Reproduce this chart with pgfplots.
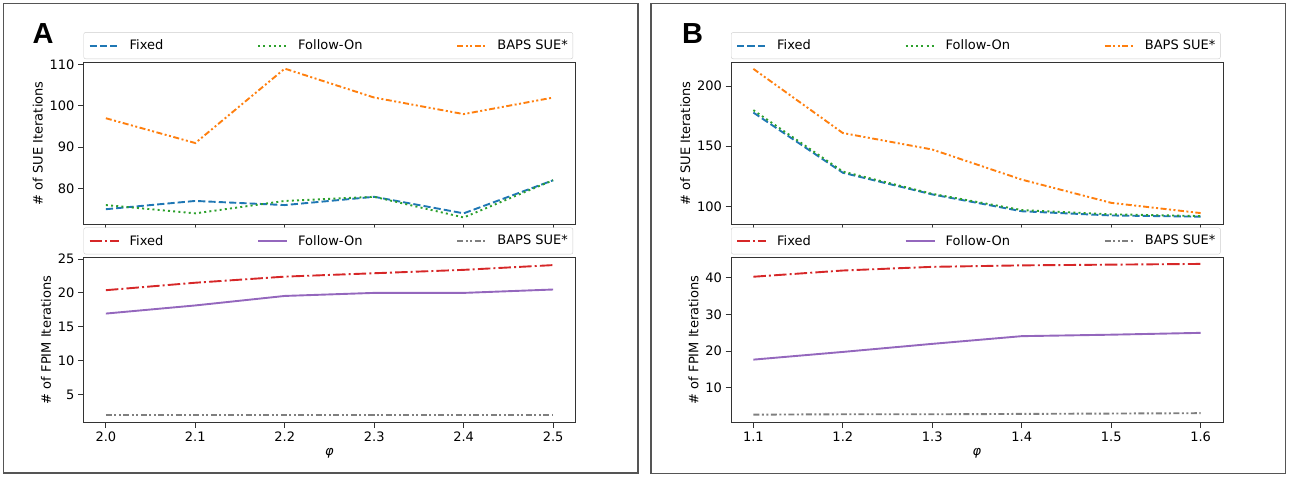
\documentclass[border=0pt]{standalone}
\usepackage{fontspec}
\setmainfont{DejaVu Sans}
\newfontfamily\panelfont{Liberation Sans}
\usepackage{pgfplots}
\pgfplotsset{compat=1.18}
\definecolor{tblue}{HTML}{1F77B4}
\definecolor{tgreen}{HTML}{2CA02C}
\definecolor{torange}{HTML}{FF7F0E}
\definecolor{tred}{HTML}{D62728}
\definecolor{tpurple}{HTML}{9467BD}
\definecolor{tgray}{HTML}{7F7F7F}
\definecolor{spine}{HTML}{333333}
\definecolor{frame}{HTML}{555555}

\pgfplotsset{
  mpl/.style={
    scale only axis, width=492pt,
    axis line style={spine, line width=1pt},
    tick style={spine, line width=1pt},
    major tick length=5.5pt,
    tick align=outside,
    tick pos=left,
    font=\fontsize{13}{15.6}\selectfont,
    tick label style={font=\fontsize{13}{15.6}\selectfont},
    /pgf/number format/assume math mode=true,
    label style={font=\fontsize{13}{15.6}\selectfont},
    xtick=data,
    xticklabel style={/pgf/number format/.cd, fixed, fixed zerofill, precision=1},
    yticklabel style={/pgf/number format/.cd, fixed, precision=0},
    legend columns=3,
    legend cell align=left,
    legend style={at={(0,1)}, anchor=south west, yshift=3pt, draw=black!20,
      rounded corners=2pt, fill=white, inner xsep=5pt, inner ysep=7.5pt,
      nodes={inner sep=0pt},
      font=\fontsize{13}{15.6}\selectfont,
      /tikz/every odd column/.style={column sep=10pt},
      /tikz/every even column/.style={column sep=94pt}},
    legend image code/.code={\draw[##1] (0pt,0pt) -- (29pt,0pt);},
  },
  dashedS/.style={line width=1.9pt, dash pattern=on 7.2pt off 3.1pt},
  dottedS/.style={line width=1.9pt, dash pattern=on 2pt off 3.2pt},
  dashdotS/.style={line width=1.9pt, dash pattern=on 12.5pt off 3.1pt on 2pt off 3.1pt},
  dashdotdotS/.style={line width=1.9pt, dash pattern=on 6pt off 2.5pt on 2pt off 2.5pt on 2pt off 2.5pt},
  solidS/.style={line width=1.9pt, solid},
}

\begin{document}
\begin{tikzpicture}
\useasboundingbox (0pt,0pt) rectangle (1292pt,-477pt);
\draw[frame, line width=1.8pt] (3.5pt,-3.5pt) rectangle (638pt,-473pt);
\draw[frame, line width=1.8pt] (651pt,-3.5pt) rectangle (1285.5pt,-473.5pt);
\node[anchor=base, inner sep=0pt] at (43pt,-43pt) {\panelfont\bfseries\fontsize{29}{30}\selectfont A};
\node[anchor=base, inner sep=0pt] at (692.5pt,-43pt) {\panelfont\bfseries\fontsize{29}{30}\selectfont B};

% ---------- Panel A top ----------
\begin{axis}[mpl, at={(83.5pt,-62pt)}, anchor=north west, height=162.5pt,
  xmin=1.975, xmax=2.525, ymin=71.3, ymax=110.6,
  ytick={80,90,100,110}, xticklabels={},
  ylabel={\# of SUE Iterations}]
\addplot[tblue, dashedS] coordinates {(2.0,75) (2.1,77) (2.2,76) (2.3,78) (2.4,74) (2.5,82)};
\addlegendentry{Fixed}
\addplot[tgreen, dottedS] coordinates {(2.0,76) (2.1,74) (2.2,77) (2.3,78) (2.4,73) (2.5,82)};
\addlegendentry{Follow-On}
\addplot[torange, dashdotdotS] coordinates {(2.0,97) (2.1,91) (2.2,109) (2.3,102) (2.4,98) (2.5,102)};
\addlegendentry{BAPS SUE*}
\end{axis}

% ---------- Panel A bottom ----------
\begin{axis}[mpl, at={(83.5pt,-257.3pt)}, anchor=north west, height=165.4pt,
  xmin=1.975, xmax=2.525, ymin=0.85, ymax=25.25,
  ytick={5,10,15,20,25},
  ylabel={\# of FPIM Iterations}, xlabel={\textit{φ}}]
\addplot[tred, dashdotS] coordinates {(2.0,20.4) (2.1,21.5) (2.2,22.4) (2.3,22.9) (2.4,23.4) (2.5,24.1)};
\addlegendentry{Fixed}
\addplot[tpurple, solidS] coordinates {(2.0,16.95) (2.1,18.15) (2.2,19.55) (2.3,20.0) (2.4,20.0) (2.5,20.5)};
\addlegendentry{Follow-On}
\addplot[tgray, dashdotdotS] coordinates {(2.0,2.0) (2.1,2.0) (2.2,2.0) (2.3,2.0) (2.4,2.0) (2.5,2.0)};
\addlegendentry{BAPS SUE*}
\end{axis}

% ---------- Panel B top ----------
\begin{axis}[mpl, at={(731pt,-62pt)}, anchor=north west, height=162.5pt,
  xmin=1.075, xmax=1.625, ymin=85, ymax=220,
  ytick={100,150,200}, xticklabels={},
  ylabel={\# of SUE Iterations}]
\addplot[tblue, dashedS] coordinates {(1.1,178) (1.2,128) (1.3,110) (1.4,96) (1.5,92.5) (1.6,91.5)};
\addlegendentry{Fixed}
\addplot[tgreen, dottedS] coordinates {(1.1,180) (1.2,129) (1.3,110.5) (1.4,97) (1.5,93.5) (1.6,92)};
\addlegendentry{Follow-On}
\addplot[torange, dashdotdotS] coordinates {(1.1,214.3) (1.2,161) (1.3,147.3) (1.4,122.3) (1.5,103) (1.6,94.5)};
\addlegendentry{BAPS SUE*}
\end{axis}

% ---------- Panel B bottom ----------
\begin{axis}[mpl, at={(731pt,-257.3pt)}, anchor=north west, height=165.4pt,
  xmin=1.075, xmax=1.625, ymin=0.5, ymax=45.6,
  ytick={10,20,30,40},
  ylabel={\# of FPIM Iterations}, xlabel={\textit{φ}}]
\addplot[tred, dashdotS] coordinates {(1.1,40.3) (1.2,42.0) (1.3,43.0) (1.4,43.4) (1.5,43.6) (1.6,43.8)};
\addlegendentry{Fixed}
\addplot[tpurple, solidS] coordinates {(1.1,17.7) (1.2,19.8) (1.3,22.0) (1.4,24.1) (1.5,24.5) (1.6,25.0)};
\addlegendentry{Follow-On}
\addplot[tgray, dashdotdotS] coordinates {(1.1,2.7) (1.2,2.8) (1.3,2.8) (1.4,2.9) (1.5,3.0) (1.6,3.1)};
\addlegendentry{BAPS SUE*}
\end{axis}
\end{tikzpicture}
\end{document}
